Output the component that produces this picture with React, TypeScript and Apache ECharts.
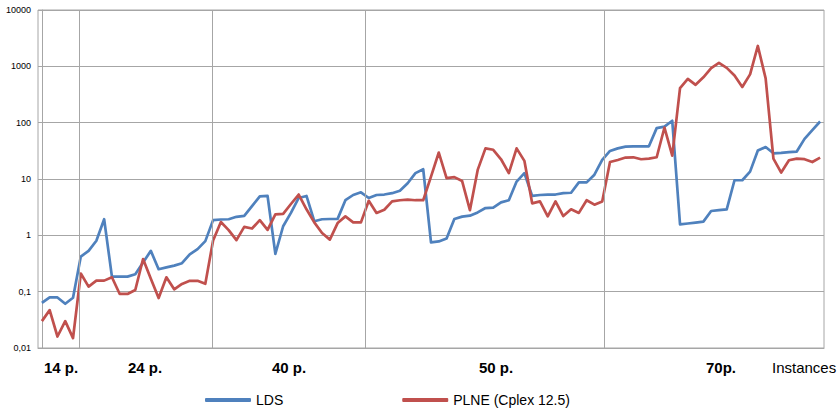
import React, { useEffect, useRef } from "react";
import * as echarts from "echarts";

const ldsTimes = [
  0.063, 0.079, 0.079, 0.061, 0.078, 0.42, 0.53, 0.8, 1.93, 0.185,
  0.185, 0.185, 0.204, 0.33, 0.53, 0.25, 0.27, 0.29, 0.32, 0.46,
  0.57, 0.79, 1.86, 1.91, 1.93, 2.13, 2.22, 3.3, 4.9, 5.0,
  0.47, 1.45, 2.5, 4.6, 5.0, 1.78, 1.93, 1.95, 1.96, 4.2,
  5.2, 5.8, 4.6, 5.2, 5.3, 5.6, 6.2, 8.4, 12.7, 14.9,
  0.75, 0.78, 0.88, 1.95, 2.15, 2.23, 2.55, 3.05, 3.1, 3.84,
  4.2, 9.0, 12.7, 5.0, 5.2, 5.3, 5.3, 5.6, 5.7, 8.7,
  8.7, 11.9, 21.8, 31.5, 35, 37.5, 38, 38, 38, 80,
  85, 108, 1.56, 1.62, 1.68, 1.75, 2.7, 2.8, 2.9, 9.5,
  9.5, 13.5, 32, 37, 28.6, 29, 30, 30.7, 51.5, 74,
  105,
];

const plneTimes = [
  0.03, 0.047, 0.016, 0.03, 0.015, 0.21, 0.123, 0.157, 0.157, 0.18,
  0.091, 0.091, 0.107, 0.38, 0.17, 0.077, 0.18, 0.11, 0.137, 0.156,
  0.156, 0.138, 0.81, 1.72, 1.24, 0.82, 1.41, 1.32, 1.86, 1.25,
  2.36, 2.4, 3.6, 5.3, 2.9, 1.7, 1.1, 0.84, 1.65, 2.17,
  1.7, 1.7, 4.1, 2.5, 2.85, 4.0, 4.2, 4.3, 4.2, 4.2,
  11, 29.5, 10.4, 10.8, 9.2, 2.8, 14.5, 35, 33, 22.4,
  12.7, 35, 21, 3.7, 4.0, 2.17, 4.0, 2.2, 2.9, 2.5,
  4.2, 3.5, 4.0, 20, 21.8, 24, 24.3, 22.4, 23, 24.3,
  82, 26, 411, 600, 470, 640, 930, 1150, 940, 690,
  430, 720, 2300, 610, 23, 13, 21.5, 23, 22.5, 20,
  24,
];

const seriesNames = ["LDS", "PLNE (Cplex 12.5)"];
const seriesColors = ["#4F81BD", "#C0504D"];
const yTickLabels = ["0,01", "0,1", "1", "10", "100", "1000", "10000"];
const groupLabels = ["14 p.", "24 p.", "40 p.", "50 p.", "70p."];
const groupLabelX = [61, 145, 289, 496, 721];
const groupSeparators = [4.8, 21.9, 41.6, 72.3];
const xAxisTitle = "Instances";

export default function App() {
  const ref = useRef<HTMLDivElement>(null);

  useEffect(() => {
    if (!ref.current) return;
    const chart = echarts.init(ref.current, undefined, { renderer: "svg" });
    const font = "'Liberation Sans', Arial, sans-serif";
    const gridColor = "#a6a6a6";

    const toPairs = (arr: number[]) => arr.map((v, i) => [i, v]);

    chart.setOption({
      animation: false,
      backgroundColor: "#ffffff",
      grid: {
        left: 38,
        right: 15,
        top: 10,
        bottom: 63,
        show: true,
        borderColor: gridColor,
        borderWidth: 1,
        containLabel: false,
      },
      xAxis: {
        type: "value",
        min: -0.5,
        max: ldsTimes.length - 0.5,
        axisLine: { show: true, lineStyle: { color: gridColor } },
        axisTick: { show: false },
        axisLabel: { show: false },
        splitLine: { show: false },
      },
      yAxis: {
        type: "log",
        logBase: 10,
        min: 0.01,
        max: 10000,
        axisLine: { show: true, lineStyle: { color: gridColor } },
        axisTick: { show: false },
        splitLine: { show: true, lineStyle: { color: gridColor, width: 1 } },
        axisLabel: {
          fontSize: 9,
          color: "#000",
          fontFamily: font,
          margin: 7,
          formatter: (v: number) =>
            yTickLabels[Math.round(Math.log10(v)) + 2] ?? "",
        },
      },
      legend: {
        data: seriesNames,
        left: 200,
        top: 388,
        icon: "roundRect",
        itemWidth: 46,
        itemHeight: 4,
        itemGap: 119,
        textStyle: { fontSize: 14, color: "#000", fontFamily: font },
      },
      series: [
        {
          name: seriesNames[0],
          type: "line",
          data: toPairs(ldsTimes),
          showSymbol: false,
          symbol: "none",
          color: seriesColors[0],
          lineStyle: { width: 2.7, color: seriesColors[0], join: "round" },
          markLine: {
            silent: true,
            symbol: "none",
            label: { show: false },
            lineStyle: { color: gridColor, width: 1, type: "solid" },
            data: groupSeparators.map((x) => ({ xAxis: x })),
          },
        },
        {
          name: seriesNames[1],
          type: "line",
          data: toPairs(plneTimes),
          showSymbol: false,
          symbol: "none",
          color: seriesColors[1],
          lineStyle: { width: 2.7, color: seriesColors[1], join: "round" },
        },
      ],
      graphic: [
        ...groupLabels.map((t, i) => ({
          type: "text",
          x: groupLabelX[i],
          y: 367,
          style: {
            text: t,
            fill: "#000",
            font: `bold 15px ${font}`,
            textAlign: "center",
            textVerticalAlign: "middle",
          },
        })),
        {
          type: "text",
          x: 772,
          y: 367,
          style: {
            text: xAxisTitle,
            fill: "#000",
            font: `15px ${font}`,
            textAlign: "left",
            textVerticalAlign: "middle",
          },
        },
      ],
    });

    return () => chart.dispose();
  }, []);

  return (
    <div
      ref={ref}
      style={{ position: "absolute", left: 0, top: 0, width: 839, height: 411 }}
    />
  );
}
